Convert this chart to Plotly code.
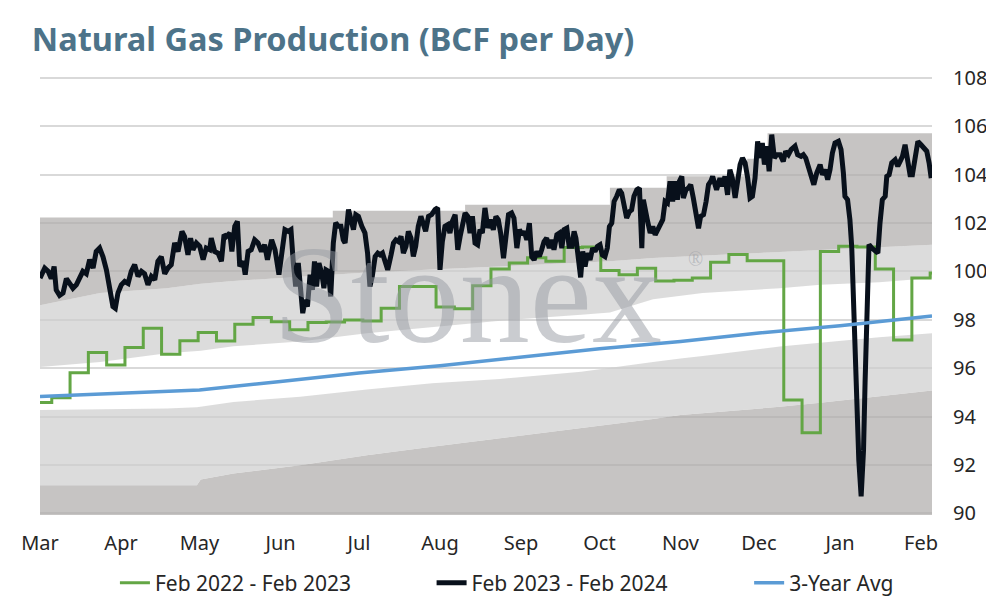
import plotly.graph_objects as go

# ---------------- data ----------------
month_days = [0, 31, 61, 92, 122, 153, 184, 214, 245, 275, 306, 337]
month_labels = ["Mar", "Apr", "May", "Jun", "Jul", "Aug", "Sep", "Oct", "Nov", "Dec", "Jan", "Feb"]
y_ticks = [90, 92, 94, 96, 98, 100, 102, 104, 106, 108]

# Feb 2023 - Feb 2024 (days since Mar 1)
black_days = [0, 1.8, 3.1, 4.3, 5.4, 6.2, 7.5, 8.8, 10.1, 11.3, 12.6, 13.9, 15.2, 16.4, 17.7, 19.0, 20.3, 21.5, 22.8, 24.1,
              25.4, 26.6, 27.9, 28.8, 29.8, 31.1, 32.4, 33.7, 34.9, 36.2, 37.5, 38.8, 40.0, 41.3, 42.6, 43.9, 45.1, 46.4, 47.7, 48.9,
              50.2, 51.5, 52.8, 54.3, 55.3, 56.6, 57.6, 58.5, 59.8, 61.1, 62.4, 63.6, 64.9, 65.5, 66.8, 68.1, 69.4, 70.4, 71.3, 72.6,
              73.4, 74.5, 75.5, 76.4, 77.7, 78.5, 79.6, 80.8, 82.1, 83.4, 84.7, 85.9, 87.0,
              88.6, 89.9, 91.4, 92.4, 93.7, 95.0, 96.0, 96.9, 97.8, 98.8, 99.8, 100.5, 101.4, 102.3, 103.3, 104.2, 105.0, 105.8, 106.7,
              107.8, 108.6, 109.4, 110.3, 111.2, 112.2, 113.1, 114.1, 115.1, 116.0, 116.7, 118.0, 119.0, 119.9, 120.8, 121.8, 123.1,
              124.3, 125.3, 126.2, 127.1, 128.2, 129.2, 130.1, 131.0, 132.0, 133.0, 134.3, 135.2, 136.1, 137.1, 138.1, 139.0, 140.0,
              140.9, 141.9, 142.8, 143.7, 144.7, 145.7, 146.6, 147.5, 148.6, 149.8, 151.1, 152.1, 153.0, 153.9, 154.9, 156.0, 156.8,
              157.7, 158.8, 159.8, 160.7, 161.6, 162.6, 163.6, 164.5, 165.4, 166.4, 167.4, 168.3, 169.2, 170.2, 171.3, 172.2, 173.4,
              174.4, 175.3, 176.2, 177.3, 178.1, 179.2, 180.4, 181.3, 182.4, 183.4, 184.3, 185.2, 186.2, 187.2, 188.1, 189.0, 190.0,
              191.0, 191.9, 192.8, 193.8, 194.8, 195.7, 196.6, 197.7, 198.7, 199.6, 200.5, 201.5, 202.4, 203.4, 204.3, 205.0, 205.9,
              206.8, 207.6, 208.5, 209.4, 210.4, 211.4, 212.3, 213.2, 214.2, 215.1, 216.1, 217.0, 217.8, 218.7, 219.6, 220.6, 221.6,
              222.5, 223.4, 224.4, 225.5, 226.3, 227.2, 228.3, 229.3, 230.2, 230.8, 231.6, 232.3, 233.4, 234.4, 235.3, 236.2, 237.2,
              238.2, 239.1, 240.0, 241.0, 242.0, 242.9, 243.8, 244.6, 245.5, 246.1, 247.1, 248.0, 248.9, 249.9, 251.0, 251.9, 252.7,
              253.8, 254.8, 255.7, 256.6, 257.3, 258.2, 258.8, 260.1, 261.0, 262.0, 263.0, 263.9, 264.8, 265.9, 266.9, 267.8, 268.7,
              269.7, 270.7, 271.6, 272.5, 273.5, 274.5, 275.4, 276.3, 277.1, 278.0, 278.9, 279.9, 280.9, 281.8, 283.1, 284.3, 285.2,
              286.3, 287.3, 288.8, 289.8, 291.1, 292.0, 292.9, 293.9, 294.9, 296.0, 297.1, 298.4, 299.3, 300.3, 301.3, 302.2, 303.1,
              304.1, 305.4, 306.4, 307.3, 307.9, 308.9, 309.8, 310.5, 311.2, 312.2, 313.2, 314.1, 315.0, 315.6, 316.3, 317.1, 318.2,
              319.4, 320.5, 321.3, 322.2, 323.3, 323.9, 324.8, 325.8, 327.1, 328.1, 329.0, 329.9, 330.9, 331.9, 332.8, 333.7, 334.7,
              335.8, 337.0, 338.3, 339.2, 340.1, 340.9]
black_vals = [99.72, 100.13, 100.0, 99.7, 100.2, 99.23, 99.0, 99.1, 99.7, 99.5, 99.3, 99.44, 99.7, 100.0, 99.9, 100.48, 100.13, 100.82, 100.96, 100.6,
              100.06, 99.23, 98.54, 98.47, 99.1, 99.44, 99.58, 99.5, 100.0, 100.27, 99.79, 100.0, 99.9, 99.44, 99.79, 99.65, 100.41, 100.6, 99.9, 100.13,
              100.27, 101.17, 100.82, 101.65, 101.44, 100.68, 101.37, 100.89, 101.17, 101.03, 100.48, 100.96, 100.89, 101.37, 100.82, 100.75, 100.41, 101.51, 101.44, 101.58,
              100.82, 101.86, 102.06, 100.2, 100.41, 99.86, 100.82, 100.89, 101.3, 101.17, 100.82, 101.1, 100.48,
              101.3, 100.89, 99.86, 100.61, 101.72, 101.65, 101.72, 100.34, 99.37, 100.34, 99.1, 98.27, 98.82, 98.54, 99.86, 99.23, 100.41, 99.37, 100.34,
              99.9, 99.3, 100.06, 100.0, 98.96, 101.17, 102.0, 101.86, 101.86, 101.3, 101.17, 102.55, 102.13, 101.72, 102.34, 102.27, 101.86,
              101.58, 100.75, 99.37, 99.79, 100.61, 100.75, 100.68, 100.75, 100.41, 100.06, 100.68, 101.17, 101.3, 101.23, 101.44, 100.75, 101.03,
              101.65, 101.37, 100.61, 101.03, 101.86, 102.27, 102.0, 101.65, 102.27, 102.34, 102.55, 102.62, 100.06, 101.23, 101.86, 101.93, 101.58,
              102.06, 102.34, 100.89, 101.44, 102.0, 102.41, 102.27, 101.58, 102.27, 101.17, 101.1, 101.72, 101.58, 102.62, 101.79, 102.13, 101.72,
              102.27, 102.13, 101.58, 100.54, 101.44, 102.34, 102.41, 102.2, 100.96, 101.72, 101.51, 101.65, 101.3, 101.99, 100.61, 100.47, 100.82,
              100.61, 100.89, 101.23, 101.37, 100.96, 101.3, 100.89, 101.51, 101.58, 100.96, 101.72, 101.78, 101.03, 101.03, 101.65, 101.37, 100.47,
              99.75, 100.82, 100.2, 100.75, 100.47, 100.96, 100.82, 101.03, 101.1, 100.68, 100.61, 100.96, 101.85, 101.99, 102.89, 103.1, 103.37,
              103.23, 102.61, 102.2, 102.47, 102.54, 103.1, 103.37, 103.44, 100.96, 102.96, 102.34, 102.13, 101.58, 101.85, 101.51, 101.72, 101.92,
              102.13, 102.89, 102.82, 103.72, 102.89, 103.72, 102.96, 103.72, 103.92, 103.03, 103.37, 103.44, 103.58, 103.03, 102.34, 101.78, 102.27,
              102.34, 102.89, 103.58, 103.72, 103.92, 103.58, 103.37, 103.85, 103.51, 103.92, 103.16, 104.2, 103.85, 103.03, 103.72, 104.41, 104.68,
              104.48, 103.85, 103.03, 103.1, 103.85, 105.37, 104.68, 105.3, 104.41, 105.17, 104.13, 105.65, 104.68, 104.82, 104.82, 104.54, 104.96,
              104.82, 105.03, 105.17, 104.82, 104.75, 104.82, 104.68, 104.27, 103.85, 103.58, 104.06, 104.41, 103.99, 104.2, 103.79, 104.2, 104.89,
              105.3, 105.37, 105.03, 104.06, 103.1, 102.96, 102.13, 101.0, 98.8, 94.7, 92.2, 90.7, 92.6, 95.4, 98.8, 101.1, 100.96,
              100.82, 100.75, 101.99, 102.96, 103.1, 103.92, 103.99, 104.48, 104.61, 104.34, 104.54, 104.75, 105.23, 104.68, 103.99, 103.99, 104.61,
              105.37, 105.23, 105.1, 104.96, 104.48, 103.85]

# Feb 2022 - Feb 2023 (weekly values)
green_days = [0, 4.5, 11.5, 18.5, 25.5, 32.5, 39.5, 46.5, 53.5, 60.5, 67.5, 74.5, 81.5, 88.5, 95.5, 102.5, 109.5,
              116.5, 123.5, 130.5, 137.5, 144.5, 151.5, 158.5, 165.5, 172.5, 179.5, 186.5, 193.5, 200.5, 207.5, 214.5,
              221.5, 228.5, 235.5, 242.5, 249.5, 256.5, 263.5, 270.5, 277.5, 284.5, 291.5, 298.5, 305.5, 312.5, 319.5,
              326.5, 333.5, 340.5, 341.2]
green_vals = [94.58, 94.77, 95.81, 96.64, 96.13, 96.85, 97.65, 96.57, 97.13, 97.47, 97.12, 97.81, 98.09, 97.92, 97.58, 97.88, 97.9,
              97.99, 97.95, 98.47, 99.37, 99.37, 98.52, 98.45, 99.4, 100.09, 100.34, 100.56, 100.42, 100.98, 101.0, 100.03,
              99.86, 100.13, 99.6, 99.63, 99.72, 100.37, 100.69, 100.44, 100.44, 94.68, 93.33, 100.82, 101.03, 101.0, 100.09,
              97.16, 99.72, 99.93, 99.93]

# 3-year average
avg_days = [0, 31, 61, 92, 122, 153, 184, 214, 245, 275, 306, 337, 341.2]
avg_vals = [94.83, 94.95, 95.1, 95.45, 95.8, 96.1, 96.45, 96.8, 97.1, 97.45, 97.75, 98.1, 98.15]

# background range bands
band_days = [0, 23, 48.5, 60, 61.5, 74, 99.5, 125, 150, 176, 207, 218, 234.5, 245, 253.5, 283, 298.5, 321, 341.2]
band_low_dark = [91.16, 91.16, 91.16, 91.16, 91.4, 91.64, 91.99, 92.4, 92.75, 93.1, 93.5, 93.65, 93.9, 94.06, 94.13, 94.4, 94.57, 94.82, 95.07]
band_low_light = [94.27, 94.3, 94.33, 94.38, 94.4, 94.6, 94.82, 95.12, 95.37, 95.55, 95.85, 96.0, 96.25, 96.4, 96.5, 96.89, 97.05, 97.27, 97.44]
band_high_light = [96.05, 96.25, 96.61, 96.7, 96.72, 96.9, 97.1, 97.44, 97.7, 97.96, 98.2, 98.3, 98.85, 99.0, 99.1, 99.3, 99.44, 99.55, 99.72]
band_high_dark = [98.6, 99.1, 99.3, 99.48, 99.49, 99.6, 99.79, 99.95, 100.07, 100.2, 100.35, 100.42, 100.55, 100.61, 100.65, 100.8, 100.88, 101.0, 101.1]
max_days = [0, 112, 162.6, 218, 239.7, 270.5, 278.3, 341.2]
max_vals = [102.22, 102.5, 102.75, 103.45, 103.93, 104.65, 105.7, 105.7]

# ---------------- styling ----------------
DARK = "rgba(174,171,169,0.7)"
LIGHT = "rgba(205,205,205,0.7)"
FONT = "Noto Sans"
TXT = "#262626"
WM = "rgba(150,154,162,0.5)"

fig = go.Figure()
band_kw = dict(mode="lines", line=dict(width=0), hoverinfo="skip", showlegend=False)
fig.add_trace(go.Scatter(x=band_days, y=band_low_dark, fill="tozeroy", fillcolor=DARK, **band_kw))
fig.add_trace(go.Scatter(x=band_days, y=band_low_light, fill="tonexty", fillcolor=LIGHT, **band_kw))
fig.add_trace(go.Scatter(x=band_days, y=band_high_light, fill="none", **band_kw))
fig.add_trace(go.Scatter(x=band_days, y=band_high_dark, fill="tonexty", fillcolor=LIGHT, **band_kw))
fig.add_trace(go.Scatter(x=max_days, y=max_vals, fill="tonexty", fillcolor=DARK, mode="lines",
                         line=dict(width=0, shape="hv"), hoverinfo="skip", showlegend=False))

fig.add_trace(go.Scatter(x=green_days, y=green_vals, mode="lines", name="Feb 2022 - Feb 2023",
                         line=dict(color="#63a645", width=3, shape="hv"), legend="legend"))
fig.add_trace(go.Scatter(x=black_days, y=black_vals, mode="lines", name="Feb 2023 - Feb 2024",
                         line=dict(color="#08101b", width=5), legend="legend2"))
fig.add_trace(go.Scatter(x=avg_days, y=avg_vals, mode="lines", name="3-Year Avg",
                         line=dict(color="#5b9bd5", width=3.5), legend="legend3"))

leg_common = dict(orientation="h", xanchor="left", yref="container", y=0.0254, yanchor="middle",
                  font=dict(family=FONT, size=21, color=TXT), bgcolor="rgba(0,0,0,0)",
                  traceorder="normal")

fig.update_layout(
    width=978, height=590,
    margin=dict(l=32, r=54, t=68, b=83),
    paper_bgcolor="white", plot_bgcolor="white",
    font=dict(family=FONT, size=20, color=TXT),
    title=dict(text="<b>Natural Gas Production (BCF per Day)</b>", x=0.0244, xanchor="left",
               y=0.9458, yanchor="middle", font=dict(family=FONT, size=32.5, color="#4d7389")),
    xaxis=dict(range=[0, 341.2], tickvals=month_days, ticktext=month_labels, showgrid=False,
               zeroline=False, showline=False, ticks="", ticklabelstandoff=14, automargin=False,
               tickfont=dict(size=20, color=TXT)),
    yaxis=dict(range=[89.93, 108.07], tickvals=y_ticks, side="right", showgrid=True, gridcolor="#d9d9d9",
               gridwidth=1.5, zeroline=False, showline=False, ticks="", ticklabelstandoff=20,
               automargin=False, tickfont=dict(size=20, color=TXT)),
    legend=dict(x=0.084, **leg_common),
    legend2=dict(x=0.439, **leg_common),
    legend3=dict(x=0.795, **leg_common),
    showlegend=True,
)

fig.add_annotation(text="Stonex", xref="paper", yref="paper", x=0.479, y=0.503, xanchor="center",
                   yanchor="middle", showarrow=False,
                   font=dict(family="Liberation Serif", size=140, color=WM))
fig.add_annotation(text="®", xref="paper", yref="paper", x=0.735, y=0.584, xanchor="center",
                   yanchor="middle", showarrow=False,
                   font=dict(family="Liberation Serif", size=20, color=WM))

fig.write_html("out.html")
